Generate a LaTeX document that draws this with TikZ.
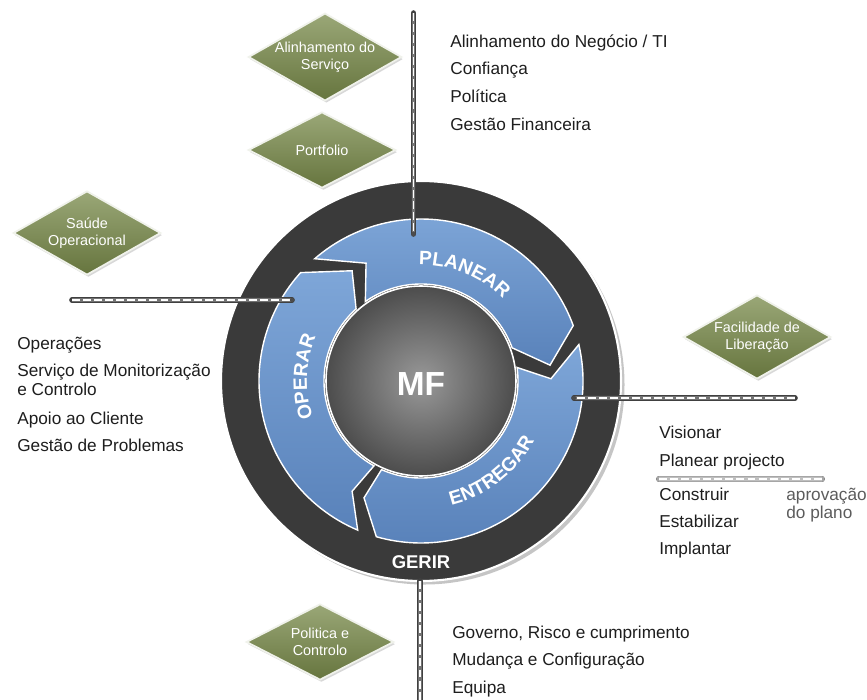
\documentclass[tikz,border=0pt]{standalone}
\usepackage{fontspec}
\setmainfont{Liberation Sans}
\usetikzlibrary{shapes.geometric,shadows,decorations.text}

\definecolor{ringdark}{HTML}{3A3A3A}
\definecolor{bluetop}{HTML}{7EA6D8}
\definecolor{bluebot}{HTML}{5982BA}
\definecolor{olivetop}{HTML}{9AA777}
\definecolor{olivebot}{HTML}{66753E}
\definecolor{textdark}{HTML}{1E1E1E}
\definecolor{notegrey}{HTML}{5C5C5C}

% one arrow of the cycle: tail outer, notch, tail inner, head outer, tip, head inner
\newcommand{\cyclearrow}[6]{(#1:162) arc[start angle=#1, end angle=#4, radius=162] -- (#5:130) -- (#6:97) arc[start angle=#6, end angle=#3, radius=97] -- (#2:130) -- cycle}

\tikzset{
  listtext/.style={anchor=base west, inner sep=0pt, text=textdark, font=\fontsize{9.8}{12}\selectfont},
  notetext/.style={listtext, text=notegrey},
  phase/.style={diamond, aspect=1.75, inner sep=0pt, minimum width=2.95cm, minimum height=1.68cm,
    top color=olivetop, bottom color=olivebot, draw=white!85!olivetop, line width=1pt,
    text=white, align=center, font=\fontsize{8.2}{9.6}\selectfont,
    drop shadow={opacity=0.3, shadow xshift=0.8pt, shadow yshift=-1.2pt}},
  road/.style={draw=white, line width=0.8pt, dash pattern=on 4.5pt off 1.8pt,
    preaction={draw=black!75, line width=3.2pt, line cap=round, solid},
    preaction={draw=black!55, line width=1.9pt, solid}},
  lightroad/.style={road, preaction={draw=black!35, line width=3pt, line cap=round, solid},
    preaction={draw=black!25, line width=1.9pt, solid}},
  arrowpart/.style={top color=bluetop, bottom color=bluebot, draw=white, line width=0.8pt},
  arclabel/.style={decorate, decoration={text along path, text color=white, text align=center,
    text={|\fontsize{11}{12}\selectfont\bfseries|#1}}}
}

\begin{document}
\begin{tikzpicture}[x=0.02cm, y=0.02cm]
  \useasboundingbox (0,0) rectangle (867,-700);
  \fill[white] (0,0) rectangle (867,-700);

  % service management cycle
  \begin{scope}[shift={(421,-381)}]
    \fill[ringdark, draw=white, line width=1.2pt, drop shadow={opacity=0.45, shadow xshift=2pt, shadow yshift=-2pt}] (0,0) circle[radius=200];
    \path[arrowpart] \cyclearrow{131}{115}{125}{20}{7}{20};
    \path[arrowpart] \cyclearrow{13}{1}{8}{-106}{-116}{-114};
    \path[arrowpart] \cyclearrow{-113}{-122}{-119}{-222}{-238}{-228};
    \shade[inner color=black!40, outer color=black!70, draw=white, line width=0.9pt] (0,0) circle[radius=95];
    \path[arclabel=PLANEAR] (98:116) arc[start angle=98, end angle=38, radius=116];
    \path[arclabel=ENTREGAR] (-82:128) arc[start angle=-82, end angle=-22, radius=128];
    \path[arclabel=OPERAR] (208:114) arc[start angle=208, end angle=148, radius=114];
    \node[text=white, font=\fontsize{19}{19}\selectfont\bfseries] (mf) at (0,-3) {MF};
    \node[text=white, font=\fontsize{10.5}{11}\selectfont\bfseries] (gerir) at (0,-181) {GERIR};
  \end{scope}

  % diamonds
  \node[phase] (aliServ) at (325,-57) {Alinhamento do\\Serviço};
  \node[phase, minimum height=1.52cm] (portf) at (322,-150) {Portfolio};
  \node[phase] (saude) at (87,-233) {Saúde\\Operacional};
  \node[phase] (facil) at (757,-337) {Facilidade de\\Liberação};
  \node[phase, minimum height=1.52cm] (polit) at (320,-642) {Politica e\\Controlo};

  % axes
  \coordinate (topA) at (413.5,-13);
  \coordinate (topB) at (413.5,-234);
  \coordinate (leftA) at (72,-300);
  \coordinate (leftB) at (292,-300);
  \coordinate (rightA) at (574,-398);
  \coordinate (rightB) at (795,-398);
  \coordinate (botA) at (420,-581);
  \coordinate (botB) at (420,-702);
  \coordinate (sepA) at (659,-479);
  \coordinate (sepB) at (822,-479);
  \draw[road] (topA) -- (topB);
  \draw[road] (leftA) -- (leftB);
  \draw[road] (rightB) -- (rightA);
  \draw[road] (botA) -- (botB);
  \draw[lightroad] (sepA) -- (sepB);
  \fill[black!70] (topB) circle[radius=2.2];
  \fill[black!70] (leftB) circle[radius=2.2];
  \fill[black!70] (rightA) circle[radius=2.2];

  % lists
  \foreach \txt/\yy [count=\i] in {{Alinhamento do Negócio / TI}/47, Confiança/74.5, Política/102.5, {Gestão Financeira}/130.5}
    \node[listtext] (plan\i) at (450,-\yy) {\txt};
  \foreach \txt/\yy [count=\i] in {Operações/349.5, {Serviço de Monitorização}/376, {e Controlo}/395.5, {Apoio ao Cliente}/424.5, {Gestão de Problemas}/451}
    \node[listtext] (oper\i) at (17,-\yy) {\txt};
  \foreach \txt/\yy [count=\i] in {Visionar/438.5, {Planear projecto}/466, Construir/500, Estabilizar/527, Implantar/554}
    \node[listtext] (deliv\i) at (659,-\yy) {\txt};
  \node[notetext] (aprov) at (786,-500.5) {aprovação};
  \node[notetext] (plano) at (786,-518) {do plano};
  \foreach \txt/\yy [count=\i] in {{Governo, Risco e cumprimento}/638.5, {Mudança e Configuração}/665.5, Equipa/693}
    \node[listtext] (manage\i) at (452,-\yy) {\txt};
\end{tikzpicture}
\end{document}
